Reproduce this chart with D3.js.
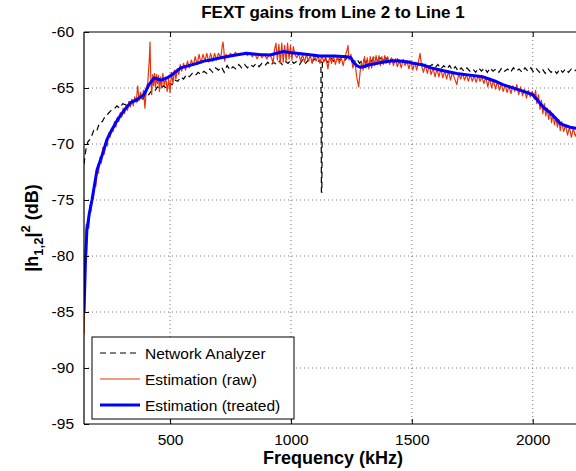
<!DOCTYPE html>
<html>
<head>
<meta charset="utf-8">
<script src="https://cdn.jsdelivr.net/npm/d3@7"></script>
<style>
  body { margin: 0; background: #fff; }
  svg { display: block; font-family: "Liberation Sans", Arial, Helvetica, sans-serif; }
</style>
</head>
<body>
<div id="chart"></div>
<script>
// Axes ticks
const X_TICKS = [500, 1000, 1500, 2000];
const Y_TICKS = [-95, -90, -85, -80, -75, -70, -65, -60];
const X_DOMAIN = [144, 2208];
const Y_DOMAIN = [-95, -60];

// Network analyzer measure [kHz, dB]
const networkAnalyzer = [
  [144,-71.8],[152,-70.5],[160,-69.8],[172,-69.5],[184,-68.8],[196,-68.9],[208,-68.1],[220,-68.0],
  [232,-67.5],[244,-67.3],[256,-67.0],[268,-66.9],[280,-66.6],[292,-66.8],[304,-66.4],[316,-66.5],
  [328,-66.2],[340,-66.4],[352,-66.0],[364,-66.2],[376,-65.8],[388,-66.0],[400,-65.5],[412,-65.6],
  [424,-65.2],[436,-65.3],[448,-64.9],[460,-65.1],[472,-64.8],[484,-65.0],[496,-64.6],[508,-64.7],
  [520,-64.3],[532,-64.4],[544,-64.0],[556,-64.2],[568,-63.8],[580,-64.0],[592,-63.7],[604,-63.9],
  [616,-63.6],[628,-63.8],[640,-63.5],[652,-63.7],[664,-63.3],[676,-63.6],[688,-63.2],[700,-63.4],
  [712,-63.1],[724,-63.6],[736,-63.0],[748,-63.4],[760,-63.1],[772,-63.3],[784,-62.9],[796,-63.2],
  [808,-62.9],[820,-63.2],[832,-62.9],[844,-63.1],[856,-62.8],[868,-63.1],[880,-62.8],[892,-63.0],
  [904,-62.7],[916,-63.0],[928,-62.7],[940,-62.9],[952,-62.6],[964,-62.9],[976,-62.6],[988,-62.8],
  [1000,-62.5],[1012,-62.8],[1024,-62.6],[1036,-62.9],[1048,-62.5],[1060,-62.8],[1072,-62.5],[1084,-62.8],
  [1096,-62.4],[1108,-62.7],[1120,-62.5],[1124,-62.6],[1126,-74.3],[1128,-74.3],[1130,-62.6],[1140,-62.4],
  [1152,-62.7],[1164,-62.3],[1176,-62.6],[1188,-62.3],[1200,-62.5],[1212,-62.2],[1224,-62.5],[1236,-62.2],
  [1248,-62.4],[1260,-62.7],[1272,-62.4],[1284,-62.8],[1296,-62.4],[1308,-62.7],[1320,-62.4],[1332,-62.6],
  [1344,-62.3],[1356,-62.6],[1368,-62.3],[1380,-62.6],[1392,-62.3],[1404,-62.6],[1416,-62.4],[1428,-62.7],
  [1440,-62.4],[1452,-62.8],[1464,-62.5],[1476,-62.8],[1488,-62.5],[1500,-62.9],[1512,-62.6],[1524,-63.0],
  [1536,-62.7],[1548,-63.0],[1560,-62.8],[1572,-63.1],[1584,-62.9],[1596,-63.2],[1608,-62.9],[1620,-63.3],
  [1632,-63.0],[1644,-63.3],[1656,-63.0],[1668,-63.4],[1680,-63.1],[1692,-63.5],[1704,-63.2],[1716,-63.5],
  [1728,-63.2],[1740,-63.5],[1752,-63.3],[1764,-63.6],[1776,-63.2],[1788,-63.5],[1800,-63.2],[1812,-63.6],
  [1824,-63.2],[1836,-63.5],[1848,-63.3],[1860,-63.6],[1872,-63.2],[1884,-63.5],[1896,-63.3],[1908,-63.6],
  [1920,-63.2],[1932,-63.5],[1944,-63.3],[1956,-63.6],[1968,-63.2],[1980,-63.5],[1992,-63.2],[2004,-63.6],
  [2016,-63.3],[2028,-63.6],[2040,-63.3],[2052,-63.7],[2064,-63.3],[2076,-63.6],[2088,-63.4],[2100,-63.7],
  [2112,-63.3],[2124,-63.6],[2136,-63.3],[2148,-63.6],[2160,-63.3],[2172,-63.5],[2184,-63.3]
];

// Raw estimation [kHz, dB]
const estimationRaw = [
  [144,-87.0],[147,-84.0],[150,-79.5],[153,-77.2],[156,-78.5],[160,-76.8],[164,-77.5],[168,-75.5],
  [173,-76.0],[178,-74.6],[183,-74.9],[188,-73.4],[193,-73.8],[198,-72.2],[204,-72.6],[210,-71.2],
  [216,-71.7],[222,-70.3],[228,-70.9],[234,-69.7],[240,-70.2],[246,-69.0],[252,-69.4],[258,-68.6],
  [264,-68.9],[270,-68.0],[276,-68.5],[282,-67.6],[288,-68.0],[294,-67.2],[300,-67.6],[306,-66.8],
  [312,-67.3],[318,-66.5],[324,-67.0],[330,-66.2],[336,-66.7],[342,-66.0],[348,-66.6],[354,-65.8],
  [360,-66.3],[366,-64.8],[372,-66.1],[378,-65.4],[384,-66.0],[390,-65.2],[396,-66.8],[402,-65.0],
  [408,-64.5],[414,-62.5],[417,-60.9],[420,-64.0],[424,-65.6],[428,-63.8],[432,-64.8],[436,-63.7],
  [440,-65.0],[444,-63.8],[448,-64.6],[452,-63.9],[456,-65.3],[460,-64.0],[465,-65.0],[470,-63.7],
  [476,-64.8],[482,-64.0],[488,-65.3],[494,-64.2],[500,-65.4],[506,-63.6],[512,-64.6],[518,-63.4],
  [524,-64.2],[530,-63.3],[536,-63.8],[542,-62.9],[548,-63.5],[556,-62.8],[564,-63.4],[572,-62.6],
  [580,-63.2],[588,-62.5],[596,-63.0],[604,-62.2],[612,-62.9],[620,-62.0],[628,-62.8],[636,-62.0],
  [644,-62.6],[652,-61.9],[660,-62.7],[668,-61.9],[676,-62.6],[684,-61.9],[692,-62.5],[700,-61.9],
  [710,-62.3],[716,-61.2],[719,-60.9],[722,-61.5],[726,-62.6],[732,-62.0],[740,-62.3],[750,-61.9],
  [760,-62.2],[770,-61.8],[780,-62.1],[790,-61.9],[800,-62.0],[810,-61.8],[820,-62.1],[830,-61.9],
  [840,-62.2],[850,-61.9],[860,-62.4],[870,-61.9],[880,-62.3],[890,-62.0],[900,-62.4],[910,-62.0],
  [920,-62.3],[926,-62.8],[932,-61.6],[938,-61.0],[944,-62.5],[950,-61.1],[956,-62.8],[962,-61.0],
  [968,-62.7],[974,-61.2],[980,-62.6],[986,-61.0],[992,-62.4],[998,-61.2],[1004,-62.5],[1010,-61.3],
  [1016,-62.0],[1024,-62.3],[1032,-61.9],[1040,-62.6],[1048,-62.0],[1056,-62.7],[1064,-62.0],[1072,-62.6],
  [1080,-62.1],[1088,-62.8],[1096,-62.0],[1104,-62.6],[1112,-62.1],[1120,-62.8],[1128,-62.1],[1136,-62.7],
  [1144,-62.2],[1153,-63.3],[1160,-62.2],[1168,-62.8],[1176,-62.1],[1184,-62.9],[1192,-62.2],[1200,-62.8],
  [1208,-62.3],[1216,-63.0],[1224,-62.2],[1232,-61.6],[1236,-61.2],[1240,-62.5],[1248,-62.0],[1256,-63.2],
  [1264,-62.6],[1272,-64.0],[1280,-64.9],[1286,-63.6],[1292,-62.6],[1298,-63.4],[1304,-62.2],[1310,-63.2],
  [1316,-62.3],[1322,-63.3],[1328,-62.2],[1334,-63.2],[1340,-62.2],[1346,-63.0],[1352,-62.1],[1358,-62.9],
  [1364,-62.1],[1370,-63.0],[1376,-62.2],[1382,-62.9],[1388,-62.1],[1394,-62.8],[1400,-62.2],[1408,-62.9],
  [1416,-62.3],[1424,-63.0],[1432,-62.4],[1440,-63.1],[1448,-62.5],[1456,-63.2],[1464,-62.5],[1472,-63.0],
  [1480,-62.6],[1488,-63.3],[1496,-62.6],[1504,-63.4],[1512,-62.7],[1520,-63.4],[1528,-62.6],[1534,-61.9],
  [1540,-63.0],[1548,-63.6],[1556,-62.9],[1564,-63.7],[1572,-63.0],[1580,-63.8],[1588,-63.2],[1596,-64.0],
  [1604,-63.3],[1612,-64.0],[1620,-63.3],[1628,-64.1],[1636,-63.5],[1644,-64.2],[1652,-63.5],[1660,-64.3],
  [1668,-63.6],[1676,-64.1],[1686,-64.7],[1694,-63.7],[1702,-64.2],[1710,-63.7],[1718,-64.3],[1726,-63.8],
  [1734,-64.4],[1742,-63.8],[1750,-64.4],[1758,-63.9],[1766,-64.5],[1774,-63.9],[1782,-64.4],[1790,-64.0],
  [1798,-64.6],[1806,-64.0],[1814,-64.9],[1822,-64.1],[1830,-65.0],[1838,-64.3],[1846,-65.1],[1854,-64.4],
  [1862,-65.2],[1870,-64.6],[1878,-65.3],[1886,-64.7],[1894,-65.4],[1902,-64.8],[1910,-65.5],[1918,-64.8],
  [1926,-65.3],[1934,-64.7],[1942,-65.6],[1950,-64.9],[1958,-65.7],[1966,-65.1],[1974,-65.9],[1982,-65.2],
  [1990,-65.8],[1998,-65.3],[2006,-66.0],[2012,-65.2],[2017,-66.4],[2024,-65.6],[2030,-66.9],[2036,-66.1],
  [2042,-67.3],[2048,-66.4],[2054,-67.5],[2060,-66.8],[2066,-67.8],[2072,-67.0],[2078,-68.1],[2084,-67.3],
  [2090,-68.3],[2096,-67.6],[2102,-68.5],[2108,-67.8],[2114,-68.8],[2120,-68.0],[2128,-68.9],[2136,-68.3],
  [2144,-69.2],[2152,-68.5],[2160,-69.4],[2168,-68.6],[2176,-69.3],[2184,-68.9]
];

// Treated estimation [kHz, dB]
const estimationTreated = [
  [144,-85.0],[150,-80.5],[156,-77.7],[166,-76.2],[177,-75.0],[198,-72.3],[219,-71.0],[239,-69.6],
  [260,-68.7],[281,-67.9],[310,-67.0],[337,-66.3],[365,-66.0],[392,-65.6],[413,-64.7],[434,-64.1],
  [448,-64.2],[462,-64.3],[488,-64.1],[515,-63.7],[544,-63.2],[578,-63.0],[612,-62.8],[640,-62.6],
  [668,-62.5],[710,-62.3],[760,-62.1],[817,-61.9],[865,-62.0],[914,-62.05],[940,-61.9],[967,-61.75],
  [1000,-61.85],[1024,-61.9],[1070,-62.0],[1120,-62.15],[1180,-62.15],[1231,-62.2],[1248,-62.3],
  [1257,-62.65],[1272,-63.0],[1286,-63.15],[1300,-63.1],[1320,-62.95],[1355,-62.8],[1390,-62.65],
  [1422,-62.56],[1450,-62.6],[1479,-62.65],[1510,-62.8],[1546,-62.95],[1580,-63.2],[1617,-63.4],
  [1650,-63.55],[1686,-63.7],[1740,-63.85],[1794,-64.0],[1840,-64.35],[1877,-64.7],[1905,-64.9],
  [1934,-65.1],[1968,-65.35],[2001,-65.6],[2020,-66.1],[2043,-66.7],[2072,-67.2],[2095,-67.7],
  [2113,-68.15],[2134,-68.35],[2154,-68.5],[2179,-68.6],[2200,-68.6]
];

const legendItems = [
  { label: "Network Analyzer", color: "#000", width: 1.2, dash: "6,4" },
  { label: "Estimation (raw)", color: "#e8340a", width: 1.2, dash: null },
  { label: "Estimation (treated)", color: "#0000ff", width: 3, dash: null }
];

const W = 576, H = 471;
const margin = { top: 32, left: 84, bottom: 424, right: 583 };

const svg = d3.select("#chart").append("svg")
  .attr("width", W)
  .attr("height", H);

const x = d3.scaleLinear().domain(X_DOMAIN).range([margin.left, margin.right]);
const y = d3.scaleLinear().domain(Y_DOMAIN).range([margin.bottom, margin.top]);

// grille pointillée
const grid = svg.append("g");
grid.selectAll(".gx").data(X_TICKS).enter().append("line")
  .attr("x1", d => x(d)).attr("x2", d => x(d))
  .attr("y1", margin.top).attr("y2", margin.bottom)
  .attr("stroke", "#777").attr("stroke-width", 1).attr("stroke-dasharray", "1,3");
grid.selectAll(".gy").data(Y_TICKS.slice(1, -1)).enter().append("line")
  .attr("x1", margin.left).attr("x2", margin.right)
  .attr("y1", d => y(d)).attr("y2", d => y(d))
  .attr("stroke", "#777").attr("stroke-width", 1).attr("stroke-dasharray", "1,3");

// clip des courbes
svg.append("defs").append("clipPath").attr("id", "plotclip")
  .append("rect")
  .attr("x", margin.left).attr("y", margin.top)
  .attr("width", margin.right - margin.left).attr("height", margin.bottom - margin.top);

const line = d3.line().x(d => x(d[0])).y(d => y(d[1]));
const curves = svg.append("g").attr("clip-path", "url(#plotclip)");

curves.append("path").datum(networkAnalyzer)
  .attr("d", line).attr("fill", "none")
  .attr("stroke", legendItems[0].color).attr("stroke-width", legendItems[0].width)
  .attr("stroke-dasharray", legendItems[0].dash);
curves.append("path").datum(estimationRaw)
  .attr("d", line).attr("fill", "none")
  .attr("stroke", legendItems[1].color).attr("stroke-width", legendItems[1].width)
  .attr("stroke-linejoin", "round");
curves.append("path").datum(estimationTreated)
  .attr("d", line).attr("fill", "none")
  .attr("stroke", legendItems[2].color).attr("stroke-width", legendItems[2].width)
  .attr("stroke-linejoin", "round");

// axes (graduations vers l'intérieur), tiret simple comme dans MATLAB
const fmt = d => String(d);
const xAxisB = d3.axisBottom(x).tickValues(X_TICKS).tickSize(-5).tickPadding(10).tickFormat(fmt);
const xAxisT = d3.axisTop(x).tickValues(X_TICKS).tickSize(-5).tickFormat("");
const yAxisL = d3.axisLeft(y).tickValues(Y_TICKS).tickSize(-5).tickPadding(10).tickFormat(fmt);

function styleAxis(g) {
  g.select(".domain").attr("stroke", "#000").attr("stroke-width", 1.2);
  g.selectAll(".tick line").attr("stroke", "#000");
  g.selectAll(".tick text").attr("fill", "#000").style("font-size", "15.5px");
}

svg.append("g").attr("transform", `translate(0,${margin.bottom})`).call(xAxisB).call(styleAxis)
  .select(".domain").attr("d", `M${margin.left},0H${margin.right}`);
svg.append("g").attr("transform", `translate(0,${margin.top})`).call(xAxisT).call(styleAxis)
  .select(".domain").attr("d", `M${margin.left},0H${margin.right}`);
svg.append("g").attr("transform", `translate(${margin.left},0)`).call(yAxisL).call(styleAxis)
  .select(".domain").attr("d", `M0,${margin.top}V${margin.bottom}`);

// titre et libellés
svg.append("text")
  .attr("x", 333).attr("y", 18)
  .attr("text-anchor", "middle")
  .style("font-size", "17px").style("font-weight", "bold")
  .text("FEXT gains from Line 2 to Line 1");

svg.append("text")
  .attr("x", 333).attr("y", 464)
  .attr("text-anchor", "middle")
  .style("font-size", "18px").style("font-weight", "bold")
  .text("Frequency (kHz)");

const yl = svg.append("text")
  .attr("transform", "translate(38,228) rotate(-90)")
  .attr("text-anchor", "middle")
  .style("font-size", "18px").style("font-weight", "bold");
yl.append("tspan").text("|h");
yl.append("tspan").attr("dy", 5).style("font-size", "13px").text("1,2");
yl.append("tspan").attr("dy", -5).text("|");
yl.append("tspan").attr("dy", -8).style("font-size", "13px").text("2");
yl.append("tspan").attr("dy", 8).text(" (dB)");

// légende
const lg = svg.append("g");
lg.append("rect")
  .attr("x", 92).attr("y", 337).attr("width", 202).attr("height", 82)
  .attr("fill", "#fff").attr("stroke", "#000").attr("stroke-width", 1);
legendItems.forEach((it, i) => {
  const ly = 353 + i * 26;
  lg.append("line")
    .attr("x1", 100).attr("x2", 140).attr("y1", ly).attr("y2", ly)
    .attr("stroke", it.color).attr("stroke-width", it.width)
    .attr("stroke-dasharray", it.dash);
  lg.append("text")
    .attr("x", 145).attr("y", ly + 5.5)
    .style("font-size", "15.5px")
    .text(it.label);
});
</script>
</body>
</html>
